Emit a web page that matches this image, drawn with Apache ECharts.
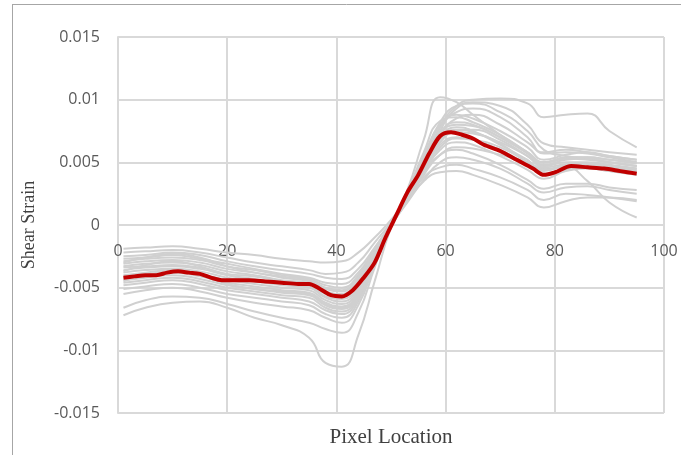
<!DOCTYPE html>
<html>
<head>
<meta charset="utf-8">
<script src="https://cdn.jsdelivr.net/npm/echarts@6/dist/echarts.min.js"></script>
<style>
  html, body { margin: 0; padding: 0; background: #fff; }
  #chart { width: 681px; height: 455px; }
</style>
</head>
<body>
<div id="chart"></div>
<script>
// pixel positions sampled for the individual gray runs
var xGray = [1, 5, 10, 15, 20, 25, 30, 35, 38, 41, 44, 47, 50, 53, 56, 59, 62, 65, 70, 75, 78, 82, 86, 90, 95]

var g01 = [-0.0019, -0.0018, -0.0017, -0.0019, -0.0022, -0.0024, -0.0027, -0.0029, -0.0030, -0.0029, -0.0022, -0.0010, 0.0004, 0.0022, 0.0048, 0.0072, 0.0085, 0.0088, 0.0080, 0.0066, 0.0058, 0.0060, 0.0058, 0.0055, 0.0052]
var g02 = [-0.0022, -0.0021, -0.0020, -0.0022, -0.0026, -0.0030, -0.0033, -0.0036, -0.0039, -0.0038, -0.0030, -0.0014, 0.0002, 0.0020, 0.0045, 0.0075, 0.0093, 0.0098, 0.0095, 0.0080, 0.0065, 0.0062, 0.0060, 0.0058, 0.0056]
var g03 = [-0.0025, -0.0024, -0.0022, -0.0024, -0.0029, -0.0033, -0.0036, -0.0039, -0.0042, -0.0043, -0.0035, -0.0018, 0.0000, 0.0020, 0.0048, 0.0078, 0.0095, 0.0100, 0.0101, 0.0097, 0.0086, 0.0088, 0.0089, 0.0075, 0.0062]
var g04 = [-0.0027, -0.0026, -0.0024, -0.0027, -0.0031, -0.0035, -0.0039, -0.0042, -0.0046, -0.0047, -0.0038, -0.0020, -0.0001, 0.0028, 0.0068, 0.0102, 0.0098, 0.0088, 0.0072, 0.0058, 0.0050, 0.0053, 0.0054, 0.0052, 0.0050]
var g05 = [-0.0029, -0.0027, -0.0026, -0.0028, -0.0033, -0.0036, -0.0040, -0.0043, -0.0048, -0.0050, -0.0040, -0.0019, 0.0001, 0.0022, 0.0050, 0.0078, 0.0090, 0.0093, 0.0086, 0.0070, 0.0057, 0.0058, 0.0057, 0.0054, 0.0050]
var g06 = [-0.0031, -0.0029, -0.0028, -0.0030, -0.0035, -0.0038, -0.0042, -0.0045, -0.0051, -0.0053, -0.0042, -0.0020, 0.0000, 0.0025, 0.0055, 0.0082, 0.0095, 0.0097, 0.0090, 0.0075, 0.0060, 0.0055, 0.0053, 0.0050, 0.0047]
var g07 = [-0.0033, -0.0031, -0.0030, -0.0032, -0.0037, -0.0040, -0.0044, -0.0046, -0.0053, -0.0055, -0.0044, -0.0020, -0.0001, 0.0021, 0.0045, 0.0066, 0.0075, 0.0076, 0.0068, 0.0055, 0.0047, 0.0050, 0.0050, 0.0048, 0.0045]
var g08 = [-0.0034, -0.0033, -0.0032, -0.0034, -0.0039, -0.0041, -0.0045, -0.0047, -0.0055, -0.0057, -0.0046, -0.0021, 0.0000, 0.0023, 0.0052, 0.0080, 0.0088, 0.0085, 0.0075, 0.0062, 0.0052, 0.0056, 0.0058, 0.0055, 0.0052]
var g09 = [-0.0036, -0.0034, -0.0033, -0.0035, -0.0040, -0.0043, -0.0047, -0.0049, -0.0057, -0.0059, -0.0048, -0.0022, 0.0000, 0.0020, 0.0042, 0.0060, 0.0066, 0.0064, 0.0055, 0.0044, 0.0037, 0.0043, 0.0045, 0.0043, 0.0040]
var g10 = [-0.0038, -0.0036, -0.0035, -0.0037, -0.0042, -0.0045, -0.0048, -0.0050, -0.0058, -0.0061, -0.0050, -0.0023, 0.0001, 0.0024, 0.0050, 0.0074, 0.0082, 0.0080, 0.0070, 0.0057, 0.0048, 0.0052, 0.0053, 0.0050, 0.0047]
var g11 = [-0.0040, -0.0038, -0.0036, -0.0039, -0.0044, -0.0047, -0.0050, -0.0052, -0.0060, -0.0063, -0.0052, -0.0024, 0.0000, 0.0019, 0.0040, 0.0056, 0.0062, 0.0061, 0.0056, 0.0050, 0.0045, 0.0046, 0.0035, 0.0018, 0.0006]
var g12 = [-0.0042, -0.0040, -0.0038, -0.0041, -0.0046, -0.0049, -0.0052, -0.0054, -0.0062, -0.0065, -0.0054, -0.0025, -0.0001, 0.0022, 0.0047, 0.0070, 0.0078, 0.0075, 0.0064, 0.0052, 0.0044, 0.0047, 0.0048, 0.0046, 0.0044]
var g13 = [-0.0044, -0.0042, -0.0040, -0.0043, -0.0048, -0.0051, -0.0054, -0.0056, -0.0064, -0.0067, -0.0056, -0.0026, 0.0000, 0.0018, 0.0036, 0.0050, 0.0054, 0.0052, 0.0045, 0.0033, 0.0026, 0.0030, 0.0031, 0.0028, 0.0025]
var g14 = [-0.0046, -0.0044, -0.0042, -0.0045, -0.0050, -0.0053, -0.0056, -0.0058, -0.0066, -0.0069, -0.0057, -0.0027, -0.0001, 0.0020, 0.0038, 0.0046, 0.0048, 0.0045, 0.0038, 0.0028, 0.0020, 0.0025, 0.0024, 0.0022, 0.0019]
var g15 = [-0.0048, -0.0046, -0.0044, -0.0047, -0.0052, -0.0055, -0.0058, -0.0061, -0.0068, -0.0071, -0.0059, -0.0028, 0.0000, 0.0019, 0.0035, 0.0042, 0.0043, 0.0040, 0.0032, 0.0022, 0.0014, 0.0019, 0.0022, 0.0022, 0.0020]
var g16 = [-0.0051, -0.0049, -0.0047, -0.0050, -0.0055, -0.0058, -0.0061, -0.0064, -0.0071, -0.0074, -0.0061, -0.0029, 0.0001, 0.0021, 0.0042, 0.0056, 0.0060, 0.0057, 0.0048, 0.0036, 0.0029, 0.0033, 0.0033, 0.0030, 0.0028]
var g17 = [-0.0055, -0.0052, -0.0050, -0.0053, -0.0058, -0.0062, -0.0065, -0.0068, -0.0074, -0.0078, -0.0064, -0.0031, 0.0000, 0.0023, 0.0048, 0.0068, 0.0074, 0.0073, 0.0066, 0.0055, 0.0046, 0.0048, 0.0046, 0.0043, 0.0040]
var g18 = [-0.0066, -0.0060, -0.0057, -0.0058, -0.0063, -0.0069, -0.0074, -0.0078, -0.0083, -0.0086, -0.0070, -0.0034, -0.0001, 0.0024, 0.0052, 0.0073, 0.0080, 0.0079, 0.0070, 0.0058, 0.0050, 0.0054, 0.0054, 0.0052, 0.0049]
var g19 = [-0.0072, -0.0066, -0.0062, -0.0061, -0.0066, -0.0074, -0.0080, -0.0090, -0.0110, -0.0113, -0.0088, -0.0045, -0.0002, 0.0026, 0.0058, 0.0083, 0.0086, 0.0082, 0.0072, 0.0058, 0.0050, 0.0053, 0.0052, 0.0050, 0.0047]
var g20 = [-0.0030, -0.0026, -0.0023, -0.0026, -0.0033, -0.0038, -0.0041, -0.0044, -0.0050, -0.0052, -0.0041, -0.0019, 0.0001, 0.0023, 0.0050, 0.0070, 0.0076, 0.0074, 0.0065, 0.0050, 0.0043, 0.0048, 0.0049, 0.0047, 0.0045]
var g21 = [-0.0037, -0.0032, -0.0029, -0.0033, -0.0040, -0.0044, -0.0046, -0.0047, -0.0053, -0.0056, -0.0045, -0.0021, 0.0000, 0.0022, 0.0046, 0.0064, 0.0070, 0.0068, 0.0060, 0.0048, 0.0041, 0.0045, 0.0046, 0.0044, 0.0042]
var g22 = [-0.0045, -0.0040, -0.0037, -0.0040, -0.0047, -0.0051, -0.0053, -0.0055, -0.0063, -0.0066, -0.0054, -0.0025, 0.0000, 0.0021, 0.0044, 0.0062, 0.0069, 0.0068, 0.0062, 0.0050, 0.0040, 0.0044, 0.0046, 0.0045, 0.0043]

var grayRuns = [g01, g02, g03, g04, g05, g06, g07, g08, g09, g10, g11, g12, g13, g14, g15, g16, g17, g18, g19, g20, g21, g22]

// average curve (red)
var xMean = [1, 3, 5, 7, 9, 11, 13, 15, 17, 19, 21, 24, 27, 30, 33, 35, 37, 39, 41, 43, 45, 47, 49, 51, 53, 55, 57, 59, 61, 63, 65, 67, 70, 73, 76, 78, 80, 83, 86, 89, 92, 95]
var yMean = [-0.0042, -0.0041, -0.0040, -0.0040, -0.0038, -0.0037, -0.0038, -0.0039, -0.0042, -0.0044, -0.0044, -0.0044, -0.0045, -0.0046, -0.0047, -0.0047, -0.0051, -0.0056, -0.0057, -0.0052, -0.0042, -0.0030, -0.0010, 0.0008, 0.0026, 0.0040, 0.0057, 0.0071, 0.0074, 0.0072, 0.0069, 0.0064, 0.0059, 0.0052, 0.0045, 0.0040, 0.0042, 0.0047, 0.0046, 0.0045, 0.0043, 0.0041]

var xTicks = { min: 0, max: 100, step: 20 }
var yTicks = { min: -0.015, max: 0.015, step: 0.005 }

function pairs(xs, ys) {
  return xs.map(function (x, i) { return [x, ys[i]] })
}

var chart = echarts.init(document.getElementById('chart'), null, { renderer: 'canvas' })

var series = grayRuns.map(function (run) {
  return {
    type: 'line',
    data: pairs(xGray, run),
    smooth: true,
    showSymbol: false,
    symbol: 'none',
    silent: true,
    lineStyle: { color: '#d0d0d0', width: 2 }
  }
})
series.push({
  type: 'line',
  data: pairs(xMean, yMean),
  smooth: 0.3,
  symbol: 'none',
  lineStyle: { color: '#c00000', width: 4 },
  z: 5
})

var option = {
  animation: false,
  backgroundColor: '#fff',
  grid: { left: 118, right: 17, top: 37, bottom: 42, containLabel: false, outerBoundsMode: 'none' },
  graphic: [
    // chart area border (only top and left edges visible)
    { type: 'line', shape: { x1: 12, y1: 4.5, x2: 681, y2: 4.5 }, style: { stroke: '#a6a6a6', lineWidth: 1 } },
    { type: 'line', shape: { x1: 12.5, y1: 4, x2: 12.5, y2: 455 }, style: { stroke: '#a6a6a6', lineWidth: 1 } }
  ],
  xAxis: {
    type: 'value',
    min: xTicks.min,
    max: xTicks.max,
    interval: xTicks.step,
    position: 'bottom',
    offset: -188, // axis sits on the zero line like the Excel original
    name: 'Pixel Location',
    nameLocation: 'middle',
    nameGap: 202,
    nameTextStyle: { fontFamily: 'Liberation Serif', fontSize: 21, color: '#404040' },
    axisLine: { onZero: false, lineStyle: { color: '#d9d9d9', width: 2 } },
    axisTick: { show: false },
    axisLabel: { margin: 18, fontFamily: 'Open Sans', fontSize: 16, color: '#595959' },
    splitLine: { show: true, lineStyle: { color: '#d9d9d9', width: 2 } }
  },
  yAxis: {
    type: 'value',
    min: yTicks.min,
    max: yTicks.max,
    interval: yTicks.step,
    name: 'Shear Strain',
    nameLocation: 'middle',
    nameGap: 80,
    nameTextStyle: { fontFamily: 'Liberation Serif', fontSize: 18, color: '#404040' },
    axisLine: { show: true, onZero: false, lineStyle: { color: '#d9d9d9', width: 2 } },
    axisTick: { show: false },
    axisLabel: { margin: 18, fontFamily: 'Open Sans', fontSize: 16, color: '#595959' },
    splitLine: { show: true, lineStyle: { color: '#d9d9d9', width: 2 } }
  },
  series: series
}

chart.setOption(option)
</script>
</body>
</html>
